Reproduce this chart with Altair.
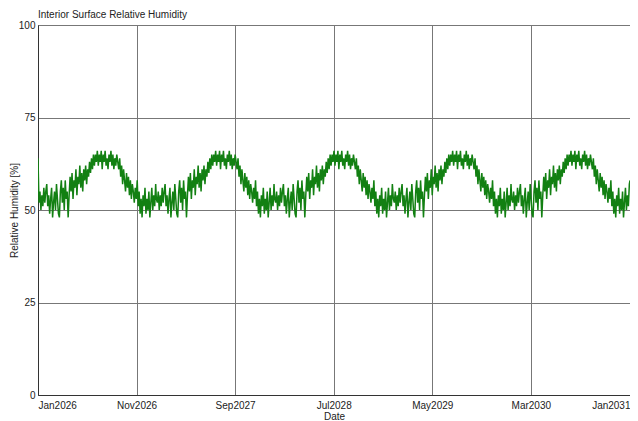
import altair as alt
import pandas as pd

# ---- data -----------------------------------------------------------------
years = [2026, 2027, 2028, 2029, 2030]
step_days = 3          # one value every 3 days through each year
rh_start = 64          # initial spike on 1 Jan 2026
rh_end = 58            # value on 1 Jan 2031

# yearly pattern (the simulation repeats the same weather year)
rh_cycle = [
    53, 52, 55, 50, 54, 51, 56, 52, 55, 57, 51, 54,
    49, 53, 56, 48, 52, 55, 50, 57, 53, 49, 48, 55,
    58, 52, 56, 50, 58, 53, 55, 48, 54, 59, 55, 60,
    53, 58, 56, 61, 54, 59, 57, 62, 56, 60, 55, 61,
    58, 62, 57, 61, 59, 63, 60, 64, 61, 65, 62, 65,
    63, 66, 62, 65, 63, 66, 61, 65, 63, 66, 62, 64,
    61, 65, 63, 66, 62, 65, 61, 64, 62, 65, 63, 61,
    64, 59, 62, 57, 61, 58, 55, 60, 56, 59, 54, 58,
    53, 57, 55, 52, 56, 53, 58, 51, 55, 49, 53, 48,
    54, 51, 56, 49, 53, 50, 55, 48, 52, 56, 50, 54,
    51, 57,
]

tick_dates = [(2026, 1), (2026, 11), (2027, 9), (2028, 7),
              (2029, 5), (2030, 3), (2031, 1)]
y_ticks = [0, 25, 50, 75, 100]

# ---- table ------------------------------------------------------------------
rows = []
for yr in years:
    base = pd.Timestamp(f"{yr}-01-01")
    for i, v in enumerate(rh_cycle):
        d = base + pd.Timedelta(days=step_days * i)
        rows.append({"date": d.strftime("%Y-%m-%dT%H:%M:%S"), "rh": v})
rows[0]["rh"] = rh_start
rows.append({"date": "2031-01-01T00:00:00", "rh": rh_end})
df = pd.DataFrame(rows)

tick_dt = [alt.DateTime(year=y, month=m, date=1) for y, m in tick_dates]

FONT = "Liberation Sans"
W, H = 592, 370

chart = (
    alt.Chart(df)
    .mark_line(color="#128012", strokeWidth=1.5, clip=True)
    .encode(
        x=alt.X(
            "date:T",
            title="Date",
            scale=alt.Scale(domain=[tick_dt[0], tick_dt[-1]], nice=False),
            axis=alt.Axis(
                values=tick_dt,
                format="%b%Y",
                labelFlush=True,
                labelOverlap=False,
                grid=True,
                gridColor="#777777",
                gridWidth=1,
                ticks=False,
                domainColor="#333333",
                labelPadding=5,
                labelFont=FONT,
                labelFontSize=10,
                labelColor="#222222",
                titleFont=FONT,
                titleFontSize=10,
                titleFontWeight="normal",
                titleColor="#222222",
                titlePadding=1,
            ),
        ),
        y=alt.Y(
            "rh:Q",
            title="Relative Humidity [%]",
            scale=alt.Scale(domain=[0, 100], nice=False),
            axis=alt.Axis(
                values=y_ticks,
                grid=True,
                gridColor="#777777",
                gridWidth=1,
                ticks=False,
                domainColor="#333333",
                labelPadding=3,
                labelFont=FONT,
                labelFontSize=10,
                labelColor="#222222",
                titleFont=FONT,
                titleFontSize=10,
                titleFontWeight="normal",
                titleColor="#222222",
                titleX=-24,
                titleY=H / 2,
                titleAngle=270,
                titleAlign="center",
                titleBaseline="middle",
            ),
        ),
    )
    .properties(
        width=W,
        height=H,
        title=alt.TitleParams(
            "Interior Surface Relative Humidity",
            anchor="start",
            frame="group",
            font=FONT,
            fontSize=10,
            fontWeight="normal",
            color="#222222",
            offset=0,
        ),
        autosize=alt.AutoSizeParams(type="none"),
        padding={"left": 30, "top": 17, "right": 0, "bottom": 26},
    )
    .configure_view(stroke="#333333", strokeWidth=1)
)

chart.save("out.html", embed_options={"renderer": "svg", "actions": False})
